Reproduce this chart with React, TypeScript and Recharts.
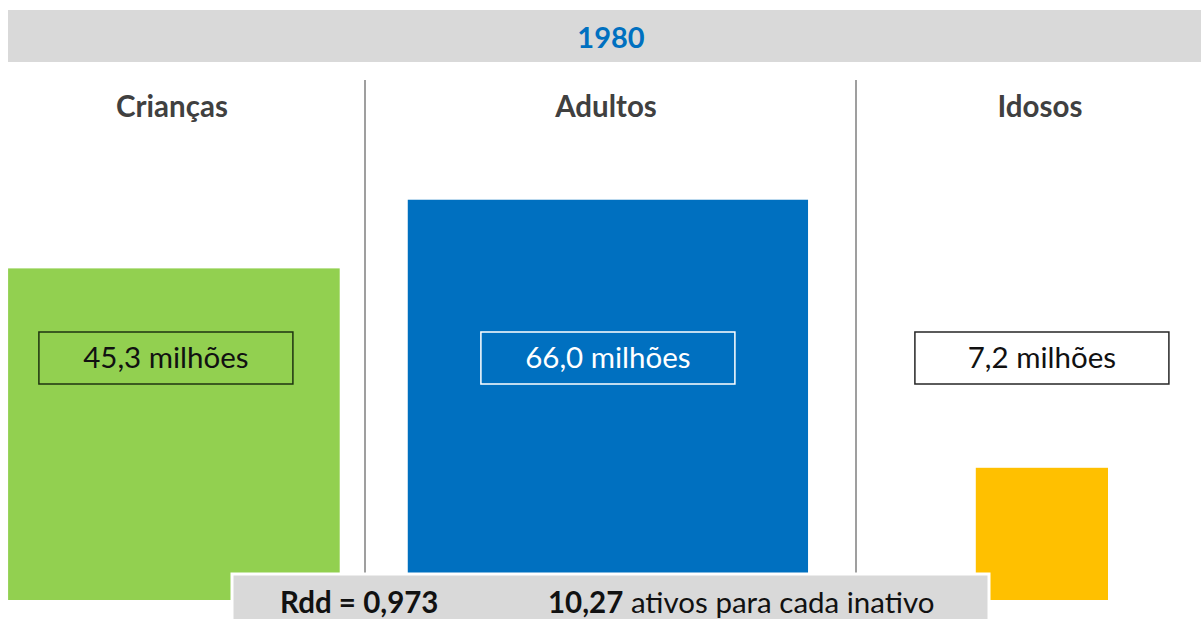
import React from 'react';
import { BarChart, Bar, XAxis, YAxis, LabelList } from 'recharts';

const categories = ['Crianças', 'Adultos', 'Idosos'];
const populationMillions = [45.3, 66.0, 7.2];
const valueLabels = ['45,3 milhões', '66,0 milhões', '7,2 milhões'];
const fillColors = ['#92d050', '#0070c0', '#ffc000'];
const labelBoxFill = ['none', 'none', '#ffffff'];
const labelBoxStroke = ['#1e3310', '#ffffff', '#262626'];
const labelTextColor = ['#111111', '#ffffff', '#111111'];
const yearLabel = '1980';
const rddText = 'Rdd = 0,973';
const ratioValue = '10,27';
const ratioText = ' ativos para cada inativo';

const data = categories.map((name, i) => ({
  name,
  value: populationMillions[i],
  label: valueLabels[i],
  idx: i,
}));

const FONT = 'Lato, "Open Sans", sans-serif';
const W = 1201;
const H = 619;
const LABEL_CENTER_Y = 358;
const BOX_W = 254;
const BOX_H = 52;

const SquareShape = (props: any) => {
  const { x, y, width, height, payload } = props;
  const i = payload ? payload.idx : 0;
  const cx = x + width / 2;
  return <rect x={cx - height / 2} y={y} width={height} height={height} fill={fillColors[i]} />;
};

const ValueBox = (props: any) => {
  const { x, width, index, value } = props;
  const cx = x + width / 2 - (index === 0 ? 8 : 0);
  return (
    <g>
      <rect
        x={cx - BOX_W / 2}
        y={LABEL_CENTER_Y - BOX_H / 2}
        width={BOX_W}
        height={BOX_H}
        fill={labelBoxFill[index]}
        stroke={labelBoxStroke[index]}
        strokeWidth={1.5}
      />
      <text
        x={cx}
        y={LABEL_CENTER_Y + 10}
        textAnchor="middle"
        fontFamily={FONT}
        fontSize={29.5}
        fill={labelTextColor[index]}
      >
        {value}
      </text>
    </g>
  );
};

const TitleTick = (props: any) => {
  const { x, y, payload } = props;
  return (
    <text x={x - 2} y={y} dy={-13} textAnchor="middle" fontFamily={FONT} fontWeight={700} fontSize={29.5} fill="#404040">
      {payload.value}
    </text>
  );
};

export default function App() {
  return (
    <div style={{ position: 'absolute', left: 0, top: 0, width: W, height: H, background: '#ffffff', overflow: 'hidden' }}>
      <svg width={W} height={H} style={{ position: 'absolute', left: 0, top: 0 }}>
        <rect x={8} y={10} width={W - 8} height={52} fill="#d9d9d9" />
        <text x={611} y={48} textAnchor="middle" fontFamily={FONT} fontWeight={700} fontSize={29} fill="#0070c0">
          {yearLabel}
        </text>
        <line x1={365} y1={80} x2={365} y2={576} stroke="#7f7f7f" strokeWidth={1.5} />
        <line x1={856} y1={80} x2={856} y2={576} stroke="#7f7f7f" strokeWidth={1.5} />
      </svg>
      <div style={{ position: 'absolute', left: 0, top: 0 }}>
        <BarChart width={W} height={H} data={data} margin={{ top: 80, right: -58, left: -43, bottom: 19 }}>
          <XAxis
            dataKey="name"
            orientation="top"
            height={50}
            axisLine={false}
            tickLine={false}
            tickSize={0}
            tickMargin={0}
            tick={<TitleTick />}
            interval={0}
          />
          <YAxis hide scale="sqrt" domain={[0, 91]} type="number" />
          <Bar dataKey="value" isAnimationActive={false} shape={<SquareShape />}>
            <LabelList dataKey="label" content={<ValueBox />} />
          </Bar>
        </BarChart>
      </div>
      <svg width={W} height={H} style={{ position: 'absolute', left: 0, top: 0 }}>
        <rect x={232} y={574} width={757} height={60} fill="#d9d9d9" stroke="#ffffff" strokeWidth={3} />
        <text x={280} y={613} fontFamily={FONT} fontWeight={700} fontSize={29.5} fill="#111111">
          {rddText}
        </text>
        <text x={548} y={613} fontFamily={FONT} fontSize={29.5} fill="#111111">
          <tspan fontWeight={700}>{ratioValue}</tspan>
          <tspan>{ratioText}</tspan>
        </text>
      </svg>
    </div>
  );
}
